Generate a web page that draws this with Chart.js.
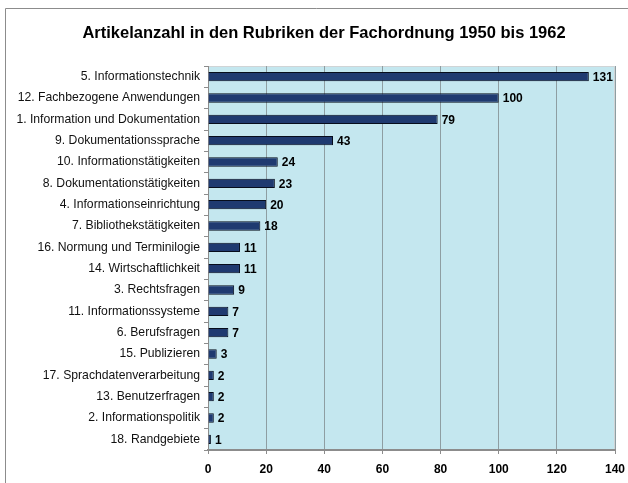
<!DOCTYPE html>
<html>
<head>
<meta charset="utf-8">
<script src="https://cdn.jsdelivr.net/npm/chart.js@4/dist/chart.umd.min.js"></script>
<style>
  html, body { margin: 0; padding: 0; background: #fff; }
  canvas { display: block; }
</style>
</head>
<body>
<canvas id="rubrikChart" width="628" height="483"></canvas>
<script>
// Rubriken der Fachordnung, von oben nach unten
const categories = [
    '5. Informationstechnik',
    '12. Fachbezogene Anwendungen',
    '1. Information und Dokumentation',
    '9. Dokumentationssprache',
    '10. Informationstätigkeiten',
    '8. Dokumentationstätigkeiten',
    '4. Informationseinrichtung',
    '7. Bibliothekstätigkeiten',
    '16. Normung und Terminilogie',
    '14. Wirtschaftlichkeit',
    '3. Rechtsfragen',
    '11. Informationssysteme',
    '6. Berufsfragen',
    '15. Publizieren',
    '17. Sprachdatenverarbeitung',
    '13. Benutzerfragen',
    '2. Informationspolitik',
    '18. Randgebiete'
];
const articleCounts = [131, 100, 79, 43, 24, 23, 20, 18, 11, 11, 9, 7, 7, 3, 2, 2, 2, 1];
const xTicks = [0, 20, 40, 60, 80, 100, 120, 140];
const chartTitle = 'Artikelanzahl in den Rubriken der Fachordnung 1950 bis 1962';

const FONT = 'Arial, "Liberation Sans", Helvetica, sans-serif';

// Hintergrund der Zeichenfläche, Rahmenlinien des Bildes, Titel
const backgroundPlugin = {
    id: 'plotBackground',
    beforeDraw(chart) {
        const { ctx, chartArea: a } = chart;
        ctx.save();
        ctx.fillStyle = '#c4e7ef';
        ctx.fillRect(a.left, a.top, a.right - a.left, a.bottom - a.top);
        ctx.strokeStyle = '#d0d4d6';
        ctx.lineWidth = 1;
        ctx.beginPath();
        ctx.moveTo(a.left, a.top + 0.5);
        ctx.lineTo(a.right - 0.5, a.top + 0.5);
        ctx.lineTo(a.right - 0.5, a.bottom);
        ctx.stroke();
        // outer frame (top + left)
        ctx.strokeStyle = '#8c8c8c';
        ctx.beginPath();
        ctx.moveTo(628, 8.5);
        ctx.lineTo(5.5, 8.5);
        ctx.lineTo(5.5, 483);
        ctx.stroke();
        // title, centred like in the original
        ctx.font = 'bold 16.5px ' + FONT;
        ctx.fillStyle = '#000';
        ctx.textAlign = 'center';
        ctx.textBaseline = 'middle';
        ctx.fillText(chartTitle, 324, 33);
        ctx.restore();
    }
};

// Zahlen rechts neben den Balken
const valueLabels = {
    id: 'valueLabels',
    afterDatasetsDraw(chart) {
        const { ctx } = chart;
        const meta = chart.getDatasetMeta(0);
        ctx.save();
        ctx.font = 'bold 12px ' + FONT;
        ctx.fillStyle = '#000';
        ctx.textAlign = 'left';
        ctx.textBaseline = 'middle';
        meta.data.forEach((bar, i) => {
            ctx.fillText(articleCounts[i], bar.x + 4, bar.y + 1);
        });
        ctx.restore();
    }
};

const ctx = document.getElementById('rubrikChart').getContext('2d');
new Chart(ctx, {
    type: 'bar',
    data: {
        labels: categories,
        datasets: [{
            data: articleCounts,
            backgroundColor: '#1f3a70',
            borderColor: '#060d1c',
            borderWidth: 1,
            barPercentage: 0.44,
            categoryPercentage: 1
        }]
    },
    options: {
        indexAxis: 'y',
        responsive: false,
        animation: false,
        layout: {
            padding: { top: 66, left: 8, right: 13, bottom: 5 }
        },
        scales: {
            x: {
                min: 0,
                max: 140,
                afterBuildTicks(scale) {
                    scale.ticks = xTicks.map(v => ({ value: v }));
                },
                afterFit(scale) {
                    scale.height = 28;
                    scale.paddingLeft = 0;
                    scale.paddingRight = 0;
                },
                grid: {
                    color: '#8e9ea2',
                    lineWidth: 1,
                    drawTicks: true,
                    tickLength: 4,
                    tickColor: '#8c8c8c'
                },
                border: { color: '#8c8c8c', width: 2 },
                ticks: {
                    color: '#000',
                    padding: 8,
                    font: { family: FONT, size: 12, weight: 'bold' }
                }
            },
            y: {
                afterFit(scale) {
                    scale.width = 200;
                    scale.paddingTop = 0;
                    scale.paddingBottom = 0;
                },
                grid: {
                    drawOnChartArea: false,
                    drawTicks: true,
                    tickLength: 4,
                    tickColor: '#8c8c8c',
                    offset: true
                },
                border: { color: '#8c8c8c', width: 1 },
                ticks: {
                    color: '#111',
                    padding: 4,
                    autoSkip: false,
                    font: { family: FONT, size: 12.2 }
                }
            }
        },
        plugins: {
            legend: { display: false },
            tooltip: { enabled: false },
            title: { display: false }
        }
    },
    plugins: [backgroundPlugin, valueLabels]
});
</script>
</body>
</html>
